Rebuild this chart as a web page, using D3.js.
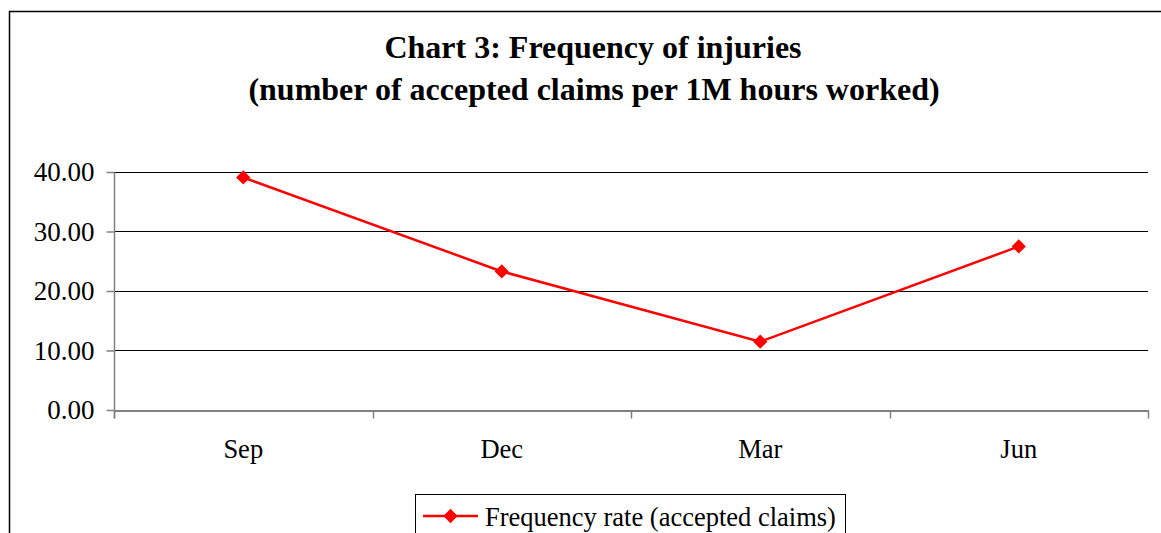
<!DOCTYPE html>
<html>
<head>
<meta charset="utf-8">
<script src="https://cdn.jsdelivr.net/npm/d3@7"></script>
<style>
  body { margin: 0; background: #fff; }
  svg { display: block; font-family: "Liberation Serif", "Times New Roman", serif; }
</style>
</head>
<body>
<svg width="1161" height="533"></svg>
<script>
var categories = ["Sep", "Dec", "Mar", "Jun"];
var frequencyRate = [39.0, 23.2, 11.4, 27.4];
var yTicks = [0, 10, 20, 30, 40];
var seriesName = "Frequency rate (accepted claims)";

var svg = d3.select("svg"),
    width = +svg.attr("width"),
    height = +svg.attr("height"),
    margin = {top: 171.5, right: 13, bottom: 123.5, left: 114};

// outer chart border
svg.append("rect")
    .attr("x", 9.5).attr("y", 11.5)
    .attr("width", 1200).attr("height", 600)
    .attr("fill", "none").attr("stroke", "#000").attr("stroke-width", 1.5);

svg.append("text")
    .attr("x", 593).attr("y", 58)
    .attr("text-anchor", "middle")
    .attr("font-weight", "bold").attr("font-size", 32)
    .text("Chart 3: Frequency of injuries");
svg.append("text")
    .attr("x", 594).attr("y", 100)
    .attr("text-anchor", "middle")
    .attr("font-weight", "bold").attr("font-size", 32)
    .text("(number of accepted claims per 1M hours worked)");

var x = d3.scaleBand()
    .domain(categories)
    .range([margin.left, width - margin.right]);

var y = d3.scaleLinear()
    .domain([0, 40])
    .range([height - margin.bottom, margin.top]);

var g = svg.append("g");

// gridlines
g.selectAll(".grid")
    .data(yTicks.filter(function(d) { return d > 0; }))
    .enter().append("line")
    .attr("x1", margin.left).attr("x2", width - margin.right)
    .attr("y1", function(d) { return Math.round(y(d)) + 0.5; })
    .attr("y2", function(d) { return Math.round(y(d)) + 0.5; })
    .attr("stroke", "#000").attr("stroke-width", 1);

// y axis
var yAxis = g.append("g")
    .attr("transform", "translate(" + (margin.left + 0.5) + ",0.5)")
    .call(d3.axisLeft(y).tickValues(yTicks).tickSize(8).tickPadding(12)
        .tickFormat(d3.format(".2f")));
yAxis.select(".domain").attr("stroke", "#808080").attr("stroke-width", 1.5)
    .attr("d", "M0," + Math.round(y(40)) + "V" + (Math.round(y(0)) + 8));
yAxis.selectAll(".tick line").attr("stroke", "#808080").attr("stroke-width", 1.5);
yAxis.selectAll(".tick text").attr("font-size", 27).attr("fill", "#000")
    .attr("font-family", "Liberation Serif, serif");

// x axis
var xAxis = g.append("g")
    .attr("transform", "translate(0," + (Math.round(y(0)) + 0.5) + ")")
    .call(d3.axisBottom(x).tickSize(0).tickPadding(29));
xAxis.select(".domain").attr("stroke", "#808080").attr("stroke-width", 2);
xAxis.selectAll(".tick text").attr("font-size", 26.5).attr("fill", "#000")
    .attr("font-family", "Liberation Serif, serif");
xAxis.selectAll(".cat-tick")
    .data(categories.concat(["end"]))
    .enter().append("line")
    .attr("x1", function(d, i) { return Math.round(margin.left + i * x.bandwidth()) + 0.5; })
    .attr("x2", function(d, i) { return Math.round(margin.left + i * x.bandwidth()) + 0.5; })
    .attr("y1", 0).attr("y2", 8)
    .attr("stroke", "#808080").attr("stroke-width", 1.5);

// series
var cx = function(d, i) { return x(categories[i]) + x.bandwidth() / 2; };
var line = d3.line()
    .x(cx)
    .y(function(d) { return y(d); });

g.append("path")
    .datum(frequencyRate)
    .attr("d", line)
    .attr("fill", "none").attr("stroke", "#ff0000").attr("stroke-width", 2.5);

var diamond = d3.symbol().type(d3.symbolDiamond2).size(130);
g.selectAll(".pt")
    .data(frequencyRate)
    .enter().append("path")
    .attr("transform", function(d, i) { return "translate(" + cx(d, i) + "," + y(d) + ")"; })
    .attr("d", diamond)
    .attr("fill", "#ff0000");

// legend
var lg = svg.append("g");
lg.append("rect")
    .attr("x", 415.5).attr("y", 494.5)
    .attr("width", 430).attr("height", 60)
    .attr("fill", "#fff").attr("stroke", "#000").attr("stroke-width", 1);
lg.append("line")
    .attr("x1", 423).attr("x2", 478).attr("y1", 516).attr("y2", 516)
    .attr("stroke", "#ff0000").attr("stroke-width", 2.5);
lg.append("path")
    .attr("transform", "translate(450.5,516)")
    .attr("d", diamond)
    .attr("fill", "#ff0000");
lg.append("text")
    .attr("x", 485).attr("y", 526)
    .attr("font-size", 26.5)
    .text(seriesName);
</script>
</body>
</html>
